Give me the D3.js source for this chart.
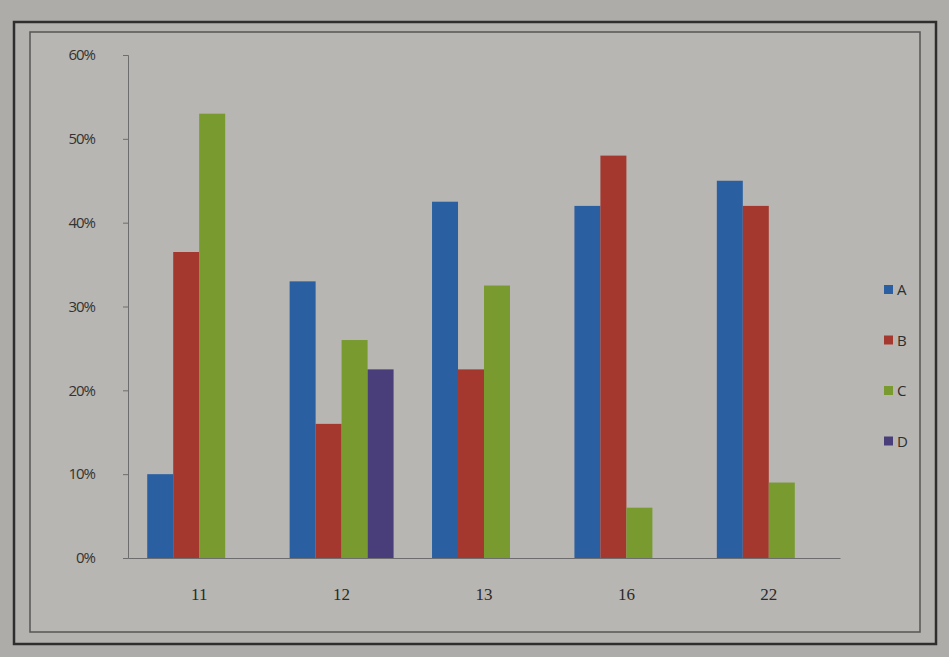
<!DOCTYPE html>
<html>
<head>
<meta charset="utf-8">
<script src="https://cdn.jsdelivr.net/npm/d3@7"></script>
<style>
  html, body { margin: 0; padding: 0; background: #a9a7a3; }
  svg { display: block; }
</style>
</head>
<body>
<div id="chart"></div>
<script>
// Chart data (percent values)
const categories = ['11', '12', '13', '16', '22'];
const seriesNames = ['A', 'B', 'C', 'D'];
const valuesA = [10, 33, 42.5, 42, 45];
const valuesB = [36.5, 16, 22.5, 48, 42];
const valuesC = [53, 26, 32.5, 6, 9];
const valuesD = [null, 22.5, null, null, null];
const yTicks = [0, 10, 20, 30, 40, 50, 60];
const colors = ['#2a60a2', '#a5382e', '#789a2f', '#4a3e7a'];

const allSeries = [valuesA, valuesB, valuesC, valuesD];

const width = 949, height = 657;
const margin = { left: 128, right: 109, top: 55, bottom: 99 };

const svg = d3.select('#chart')
    .append('svg')
    .attr('width', width)
    .attr('height', height);

// paper background
svg.append('rect')
    .attr('width', width).attr('height', height)
    .attr('fill', '#aeaca8');

// chart frame (outer and inner border)
svg.append('rect')
    .attr('x', 14).attr('y', 22)
    .attr('width', 922).attr('height', 622)
    .attr('fill', '#b4b2ae')
    .attr('stroke', '#2e2e2e').attr('stroke-width', 2.5);
svg.append('rect')
    .attr('x', 30).attr('y', 32)
    .attr('width', 890).attr('height', 600)
    .attr('fill', '#b8b6b2')
    .attr('stroke', '#555').attr('stroke-width', 1.5);

const x0 = d3.scaleBand()
    .domain(categories)
    .range([margin.left, width - margin.right])
    .paddingInner(0.27)
    .paddingOuter(0.135);

const x1 = d3.scaleBand()
    .domain(seriesNames)
    .range([0, x0.bandwidth()]);

const y = d3.scaleLinear()
    .domain([0, 60])
    .range([height - margin.bottom, margin.top]);

// bars
const rows = [];
categories.forEach((c, i) => {
    seriesNames.forEach((s, j) => {
        const v = allSeries[j][i];
        if (v !== null) rows.push({ cat: c, series: s, value: v, color: colors[j] });
    });
});

svg.append('g')
    .selectAll('rect')
    .data(rows)
    .enter()
    .append('rect')
    .attr('x', d => x0(d.cat) + x1(d.series))
    .attr('y', d => y(d.value))
    .attr('width', x1.bandwidth())
    .attr('height', d => y(0) - y(d.value))
    .attr('fill', d => d.color);

// y axis
const yAxis = svg.append('g')
    .attr('transform', `translate(${margin.left},0)`)
    .call(d3.axisLeft(y).tickValues(yTicks).tickFormat(d => d + '%').tickSize(5).tickPadding(28));
yAxis.select('.domain').attr('stroke', '#6d6d6d');
yAxis.selectAll('.tick line').attr('stroke', '#6d6d6d');
yAxis.selectAll('text')
    .attr('fill', '#333')
    .style('font-family', '"Open Sans", sans-serif')
    .style('font-size', '15px')
    .style('letter-spacing', '-1px');

// x axis
const xAxis = svg.append('g')
    .attr('transform', `translate(0,${y(0)})`)
    .call(d3.axisBottom(x0).tickSize(0).tickPadding(30));
xAxis.select('.domain').attr('stroke', '#6d6d6d');
xAxis.selectAll('text')
    .attr('fill', '#2a2a2a')
    .style('font-family', '"Liberation Serif", serif')
    .style('font-size', '17px');

// legend
const legend = svg.append('g')
    .selectAll('g')
    .data(seriesNames)
    .enter()
    .append('g')
    .attr('transform', (d, i) => `translate(884,${290 + i * 50.5})`);
legend.append('rect')
    .attr('x', 0).attr('y', -5)
    .attr('width', 9).attr('height', 9)
    .attr('fill', (d, i) => colors[i]);
legend.append('text')
    .attr('x', 13).attr('y', 5)
    .attr('fill', '#2e2e2e')
    .style('font-family', '"Open Sans", sans-serif')
    .style('font-size', '15px')
    .text(d => d);
</script>
</body>
</html>
